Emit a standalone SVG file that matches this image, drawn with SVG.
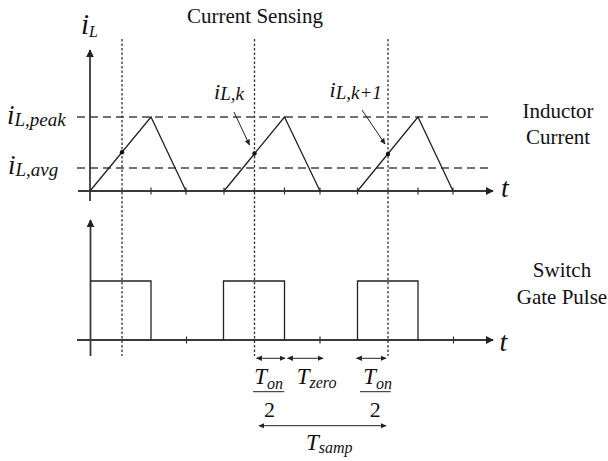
<svg xmlns="http://www.w3.org/2000/svg" width="608" height="461" viewBox="0 0 608 461">
<defs>
<style>
.axis{stroke:#3a3a3a;stroke-width:1.8;fill:none}
.wave{stroke:#222;stroke-width:1.3;fill:none}
.tick{stroke:#333;stroke-width:1.2}
.dash{stroke:#444;stroke-width:1.3;stroke-dasharray:8 5;fill:none}
.dot{stroke:#333;stroke-width:1.3;stroke-dasharray:2.5 2;fill:none}
.ann{stroke:#222;stroke-width:1;fill:none}
.lbl{font-family:"Liberation Serif","Times New Roman",serif;fill:#111}
.it{font-family:"Liberation Serif","Times New Roman",serif;font-style:italic;fill:#111}
</style>
<marker id="axArrow" viewBox="0 0 10 10" refX="9" refY="5" markerWidth="8" markerHeight="8" markerUnits="userSpaceOnUse" orient="auto">
<path d="M0,0 L10,5 L0,10 z" fill="#222"/>
</marker>
<marker id="smArrow" viewBox="0 0 10 10" refX="9" refY="5" markerWidth="6" markerHeight="6" markerUnits="userSpaceOnUse" orient="auto-start-reverse">
<path d="M0,0.5 L10,5 L0,9.5 z" fill="#222"/>
</marker>
</defs>
<rect width="608" height="461" fill="#fff"/>

<g id="ref-lines">
<line class="dash" x1="77" y1="117" x2="488" y2="117"/>
<line class="dash" x1="77" y1="168" x2="488" y2="168"/>
<line class="dot" x1="122" y1="39" x2="122" y2="356"/>
<line class="dot" x1="254.5" y1="39" x2="254.5" y2="356"/>
<line class="dot" x1="388" y1="39" x2="388" y2="356"/>
</g>

<g id="upper-axes">
<line class="axis" x1="90" y1="201" x2="90" y2="50" marker-end="url(#axArrow)"/>
<line class="axis" x1="78" y1="191" x2="493" y2="191" marker-end="url(#axArrow)"/>
<g class="tick">
<line x1="151" y1="187.5" x2="151" y2="194.5"/>
<line x1="186" y1="187.5" x2="186" y2="194.5"/>
<line x1="224" y1="187.5" x2="224" y2="194.5"/>
<line x1="284.5" y1="187.5" x2="284.5" y2="194.5"/>
<line x1="320" y1="187.5" x2="320" y2="194.5"/>
<line x1="357.5" y1="187.5" x2="357.5" y2="194.5"/>
<line x1="418" y1="187.5" x2="418" y2="194.5"/>
<line x1="453" y1="187.5" x2="453" y2="194.5"/>
</g>
</g>

<g id="inductor-current">
<polyline class="wave" points="90,191 151,117 186,191"/>
<polyline class="wave" points="224,191 284.5,117 320,191"/>
<polyline class="wave" points="357.5,191 418,117 453,191"/>
<circle cx="122" cy="152.2" r="2.2" fill="#111"/>
<circle cx="254.5" cy="153.5" r="2.2" fill="#111"/>
<circle cx="388" cy="154" r="2.2" fill="#111"/>
</g>

<g id="lower-axes">
<line class="axis" x1="90.5" y1="356" x2="90.5" y2="220" marker-end="url(#axArrow)"/>
<line class="axis" x1="77" y1="340" x2="493" y2="340" marker-end="url(#axArrow)"/>
<g class="tick">
<line x1="186.5" y1="336.5" x2="186.5" y2="343.5"/>
<line x1="320" y1="336.5" x2="320" y2="343.5"/>
<line x1="453.5" y1="336.5" x2="453.5" y2="343.5"/>
</g>
</g>

<g id="gate-pulse">
<polyline class="wave" points="90.5,281 151,281 151,340"/>
<polyline class="wave" points="223.5,340 223.5,281 284.5,281 284.5,340"/>
<polyline class="wave" points="357.5,340 357.5,281 418,281 418,340"/>
</g>

<g id="connectors">
<line class="ann" x1="234" y1="112" x2="249.5" y2="145" marker-end="url(#smArrow)"/>
<line class="ann" x1="362" y1="110" x2="385" y2="144" marker-end="url(#smArrow)"/>
<line class="ann" x1="256.5" y1="358.3" x2="285" y2="358.3" marker-start="url(#smArrow)" marker-end="url(#smArrow)"/>
<line class="ann" x1="287.5" y1="358.3" x2="323" y2="358.3" marker-start="url(#smArrow)" marker-end="url(#smArrow)"/>
<line class="ann" x1="356.5" y1="358.3" x2="386" y2="358.3" marker-start="url(#smArrow)" marker-end="url(#smArrow)"/>
<line class="ann" x1="259" y1="425.7" x2="386" y2="425.7" marker-start="url(#smArrow)" marker-end="url(#smArrow)"/>
<line class="ann" x1="253" y1="391.7" x2="284.3" y2="391.7"/>
<line class="ann" x1="360" y1="391.7" x2="390.7" y2="391.7"/>
</g>

<g id="labels">
<text class="lbl" x="255" y="23" font-size="21" text-anchor="middle">Current Sensing</text>
<text class="lbl" x="558" y="118" font-size="21" text-anchor="middle">Inductor</text>
<text class="lbl" x="558" y="144" font-size="21" text-anchor="middle">Current</text>
<text class="lbl" x="562" y="277" font-size="21" text-anchor="middle">Switch</text>
<text class="lbl" x="562" y="304" font-size="21" text-anchor="middle">Gate Pulse</text>

<text class="it" x="81" y="33.5" font-size="29">i<tspan font-size="16" dy="3">L</tspan></text>
<text class="it" x="7" y="123.5" font-size="27">i<tspan font-size="19" dy="2.5">L,peak</tspan></text>
<text class="it" x="8" y="173.5" font-size="27">i<tspan font-size="19" dy="2.5">L,avg</tspan></text>
<text class="it" x="214" y="98.5" font-size="22">i<tspan font-size="19" dy="1.5">L,k</tspan></text>
<text class="it" x="329.5" y="96.5" font-size="22">i<tspan font-size="19" dy="2">L,k+1</tspan></text>

<text class="it" x="501" y="197" font-size="28">t</text>
<text class="it" x="499.5" y="351" font-size="28">t</text>

<text class="it" x="254.3" y="383.5" font-size="23">T<tspan font-size="16" dy="5.5">on</tspan></text>
<text class="lbl" x="269.5" y="416.7" font-size="22" text-anchor="middle">2</text>
<text class="it" x="296.7" y="383.5" font-size="23">T<tspan font-size="16" dy="4">zero</tspan></text>
<text class="it" x="363.3" y="383.5" font-size="23">T<tspan font-size="16" dy="5.5">on</tspan></text>
<text class="lbl" x="375.3" y="416.7" font-size="22" text-anchor="middle">2</text>
<text class="it" x="306" y="450" font-size="23">T<tspan font-size="16" dy="2.7">samp</tspan></text>
</g>
</svg>
